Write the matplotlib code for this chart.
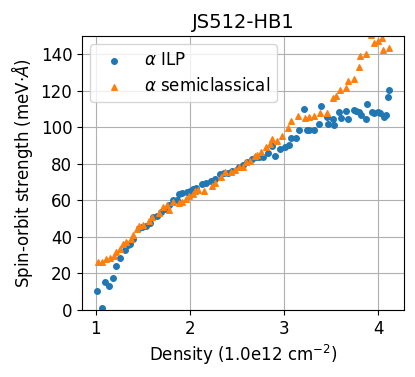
import numpy as np
import matplotlib
matplotlib.use("Agg")
from matplotlib import pyplot as plt

# alpha from ILP fit
ilp_density = [1.01, 1.07, 1.095, 1.145, 1.18, 1.22, 1.26, 1.315, 1.34, 1.365,
               1.40, 1.455, 1.49, 1.53, 1.58, 1.61, 1.65, 1.69, 1.74, 1.78,
               1.82, 1.86, 1.89, 1.92, 1.965, 2.00, 2.035, 2.07, 2.13, 2.17,
               2.23, 2.27, 2.32, 2.36, 2.41, 2.445, 2.52, 2.56, 2.61, 2.66,
               2.70, 2.74, 2.78, 2.83, 2.877, 2.905, 2.96, 3.01, 3.05, 3.07,
               3.13, 3.16, 3.21, 3.24, 3.27, 3.315, 3.37, 3.39, 3.457, 3.47,
               3.52, 3.53, 3.59, 3.605, 3.66, 3.68, 3.74, 3.77, 3.80, 3.82,
               3.87, 3.88, 3.94, 3.96, 4.00, 4.02, 4.06, 4.08, 4.11, 4.12]
ilp_alpha = [10.4, 1.3, 15.3, 13.1, 17.5, 24.0, 28.3, 32.8, 35.5, 36.0,
             38.7, 44.7, 45.6, 45.9, 47.4, 50.7, 51.4, 53.6, 55.1, 57.5,
             60.2, 60.2, 63.3, 63.8, 64.7, 65.1, 66.0, 66.9, 68.8, 69.3,
             70.6, 71.5, 74.2, 74.8, 75.1, 76.0, 78.4, 79.5, 81.0, 82.5,
             83.9, 83.5, 83.9, 86.0, 89.9, 84.4, 88.4, 89.5, 90.3, 94.3,
             94.3, 98.5, 109.8, 98.5, 98.8, 98.8, 101.8, 111.6, 105.7, 102.1,
             104.3, 101.4, 108.3, 104.9, 108.9, 104.3, 109.4, 108.7, 108.3, 106.5,
             104.6, 113.0, 108.5, 107.6, 108.3, 107.6, 105.7, 106.6, 116.7, 120.7]

# alpha from semiclassical model
sc_density = [1.02, 1.07, 1.11, 1.15, 1.19, 1.22, 1.26, 1.29, 1.32, 1.37,
              1.40, 1.44, 1.46, 1.50, 1.57, 1.60, 1.67, 1.72, 1.76, 1.78,
              1.82, 1.89, 1.915, 1.96, 1.99, 2.035, 2.06, 2.09, 2.15, 2.24,
              2.27, 2.33, 2.375, 2.44, 2.48, 2.52, 2.56, 2.60, 2.636, 2.694,
              2.715, 2.76, 2.806, 2.85, 2.877, 2.93, 2.976, 3.04, 3.07, 3.15,
              3.22, 3.27, 3.315, 3.38, 3.457, 3.52, 3.55, 3.60, 3.66, 3.68,
              3.74, 3.80, 3.81, 3.87, 3.93, 3.96, 4.00, 4.04, 4.05, 4.115]
sc_alpha = [26.3, 26.1, 27.7, 28.4, 29.5, 31.9, 33.2, 36.1, 37.2, 38.8,
            40.8, 44.1, 45.9, 46.3, 48.9, 50.7, 53.2, 56.5, 57.3, 55.0,
            59.3, 58.7, 59.1, 60.5, 62.4, 63.3, 65.3, 65.6, 65.3, 67.8,
            69.6, 72.6, 75.5, 75.7, 76.5, 78.4, 78.2, 81.1, 81.5, 84.2,
            84.6, 86.5, 89.4, 91.0, 93.5, 92.5, 95.3, 99.9, 103.7, 106.3,
            105.2, 105.8, 106.1, 107.6, 107.9, 115.8, 117.0, 120.7, 121.8, 125.4,
            126.2, 133.1, 139.0, 140.0, 150.3, 146.2, 147.2, 148.8, 142.2, 143.7]

plt.rcParams['font.size'] = 12

fig = plt.figure(figsize=(4.15, 3.77), dpi=100)
ax = fig.add_axes([0.1976, 0.1777, 0.7759, 0.7268])

ax.scatter(ilp_density, ilp_alpha, s=16, marker='o', color='C0', label=r'$\alpha$ ILP')
ax.scatter(sc_density, sc_alpha, s=16, marker='^', color='C1', label=r'$\alpha$ semiclassical')

ax.set_ylim(0, 150)
ax.set_xticks([1, 2, 3, 4])
ax.grid(True)
ax.set_axisbelow(True)

ax.set_title('JS512-HB1', fontsize=14)
ax.set_xlabel(r'Density (1.0e12 cm$^{-2}$)')
ax.set_ylabel(r'Spin-orbit strength (meV$\cdot\AA$)')
ax.legend(loc='upper left')

fig.savefig('out.png', dpi=100)
